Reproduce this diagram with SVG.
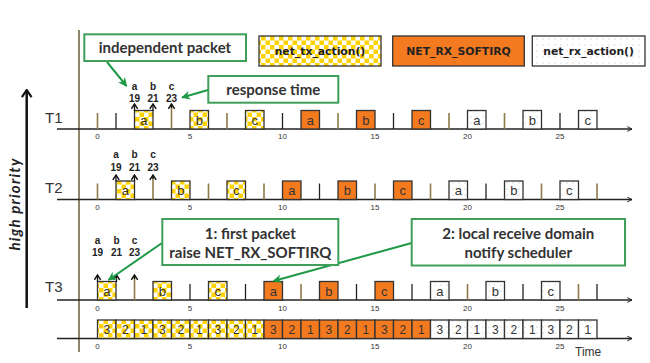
<svg xmlns="http://www.w3.org/2000/svg" width="650" height="363" viewBox="0 0 650 363">
<defs>
<pattern id="chk" patternUnits="userSpaceOnUse" width="9" height="9">
<rect width="9" height="9" fill="#fff"/>
<rect width="4.5" height="4.5" fill="#ffd200"/>
<rect x="4.5" y="4.5" width="4.5" height="4.5" fill="#ffd200"/>
</pattern>
<pattern id="dots" patternUnits="userSpaceOnUse" width="6" height="6">
<rect width="6" height="6" fill="#fff"/>
<circle cx="3" cy="3" r="0.5" fill="#aaa"/>
</pattern>
<marker id="chev" viewBox="0 0 10 10" refX="9" refY="5" markerWidth="6" markerHeight="6" markerUnits="userSpaceOnUse" orient="auto">
<path d="M1,1 L9,5 L1,9" fill="none" stroke="#222" stroke-width="1.6"/>
</marker>
<marker id="up" viewBox="0 0 10 10" refX="5" refY="1" markerWidth="8" markerHeight="8" markerUnits="userSpaceOnUse" orient="0">
<path d="M1,7 L5,1 L9,7" fill="none" stroke="#111" stroke-width="1.8"/>
</marker>
<marker id="bigup" viewBox="0 0 10 10" refX="5" refY="1" markerWidth="12" markerHeight="12" markerUnits="userSpaceOnUse" orient="0">
<path d="M1,7 L5,1 L9,7" fill="none" stroke="#111" stroke-width="1.8"/>
</marker>
<marker id="garr" viewBox="0 0 10 10" refX="9" refY="5" markerWidth="9" markerHeight="9" markerUnits="userSpaceOnUse" orient="auto">
<path d="M0,0 L10,5 L0,10 L3,5 Z" fill="#1e9a46"/>
</marker>
<style>
.ax{stroke:#222;stroke-width:1.3;fill:none}
.tk{stroke:#222;stroke-width:1.3}
.tko{stroke:#8c7a48;stroke-width:1.6}
.bx{stroke:#333;stroke-width:1.3}
.c{fill:url(#chk)}
.o{fill:#f47a20}
.w{fill:url(#dots)}
.bl{font-family:"Liberation Sans",Arial,sans-serif;font-size:13px;fill:#333;text-anchor:middle}
.dl{font-family:"Liberation Sans",Arial,sans-serif;font-size:12px;fill:#333;text-anchor:middle}
.nl{font-family:"Liberation Sans",Arial,sans-serif;font-size:8px;fill:#333;text-anchor:middle}
.rl{font-family:"Liberation Sans",Arial,sans-serif;font-size:10px;font-weight:bold;fill:#222;text-anchor:middle}
.tl{font-family:"Liberation Sans",Arial,sans-serif;font-size:15px;fill:#333}
.lg{font-family:"DejaVu Sans",Verdana,sans-serif;font-size:10.8px;font-weight:bold;fill:#222;text-anchor:middle}
.co{font-family:Lato,"Open Sans",sans-serif;font-size:15px;font-weight:bold;fill:#333;text-anchor:middle}
.cb{fill:#fff;stroke:#3f9f5a;stroke-width:2}
.ga{stroke:#1e9a46;stroke-width:2;fill:none;marker-end:url(#garr)}
.ar{stroke:#111;stroke-width:1.3;marker-start:url(#up)}
.aro{stroke:#8c7a48;stroke-width:1.6}
</style>
</defs>
<rect width="650" height="363" fill="#fff"/>

<line x1="79" y1="30" x2="79" y2="352" stroke="#6b5d3a" stroke-width="1.5"/>

<g id="priority">
<line x1="26.7" y1="90" x2="26.7" y2="308" stroke="#111" stroke-width="2.5" marker-start="url(#bigup)"/>
<text transform="translate(19.5,204) rotate(-90)" font-family="Lato,'Open Sans',sans-serif" font-size="15" font-weight="bold" font-style="italic" fill="#222" text-anchor="middle" letter-spacing="1.2">high priority</text>
</g>

<g id="legend-tx"><rect x="259" y="36" width="122" height="30" class="c bx"/><text x="320" y="55" class="lg">net_tx_action()</text></g>
<g id="legend-softirq"><rect x="392.7" y="36" width="131.6" height="30" class="o bx"/><text x="458.5" y="55" class="lg">NET_RX_SOFTIRQ</text></g>
<g id="legend-rx"><rect x="532.3" y="36" width="112.7" height="30" class="w bx"/><text x="588.6" y="55" class="lg">net_rx_action()</text></g>

<g id="T1">
<text x="45" y="123" class="tl">T1</text>
<line x1="57" y1="129" x2="632" y2="129" class="ax" marker-end="url(#chev)"/>
<line x1="97.5" y1="113" x2="97.5" y2="129" class="tko"/>
<line x1="116" y1="113" x2="116" y2="129" class="tk"/>
<line x1="227" y1="113" x2="227" y2="129" class="tko"/>
<line x1="282.5" y1="113" x2="282.5" y2="129" class="tk"/>
<line x1="338" y1="113" x2="338" y2="129" class="tko"/>
<line x1="393.5" y1="113" x2="393.5" y2="129" class="tk"/>
<line x1="449" y1="113" x2="449" y2="129" class="tko"/>
<line x1="504.5" y1="113" x2="504.5" y2="129" class="tko"/>
<line x1="560" y1="113" x2="560" y2="129" class="tk"/>
<rect x="134.5" y="110.5" width="18.5" height="18.5" class="c bx"/><text x="143.75" y="124.5" class="bl">a</text>
<rect x="190" y="110.5" width="18.5" height="18.5" class="c bx"/><text x="199.25" y="124.5" class="bl">b</text>
<rect x="245.5" y="110.5" width="18.5" height="18.5" class="c bx"/><text x="254.75" y="124.5" class="bl">c</text>
<rect x="301" y="110.5" width="18.5" height="18.5" class="o bx"/><text x="310.25" y="124.5" class="bl">a</text>
<rect x="356.5" y="110.5" width="18.5" height="18.5" class="o bx"/><text x="365.75" y="124.5" class="bl">b</text>
<rect x="412" y="110.5" width="18.5" height="18.5" class="o bx"/><text x="421.25" y="124.5" class="bl">c</text>
<rect x="467.5" y="110.5" width="18.5" height="18.5" class="w bx"/><text x="476.75" y="124.5" class="bl">a</text>
<rect x="523" y="110.5" width="18.5" height="18.5" class="w bx"/><text x="532.25" y="124.5" class="bl">b</text>
<rect x="578.5" y="110.5" width="18.5" height="18.5" class="w bx"/><text x="587.75" y="124.5" class="bl">c</text>
<line x1="171.5" y1="106" x2="171.5" y2="129" class="aro"/>
<line x1="134.5" y1="104" x2="134.5" y2="111" class="ar"/>
<line x1="153" y1="104" x2="153" y2="111" class="ar"/>
<line x1="171.5" y1="104" x2="171.5" y2="108" class="ar"/>
<text x="134.5" y="90" class="rl">a</text><text x="153" y="90" class="rl">b</text><text x="171.5" y="90" class="rl">c</text>
<text x="134.5" y="102" class="rl">19</text><text x="153" y="102" class="rl">21</text><text x="171.5" y="102" class="rl">23</text>
<text x="97.5" y="139" class="nl">0</text><text x="190" y="139" class="nl">5</text><text x="282.5" y="139" class="nl">10</text><text x="375" y="139" class="nl">15</text><text x="467.5" y="139" class="nl">20</text><text x="560" y="139" class="nl">25</text>
</g>

<g id="T2">
<text x="45" y="193" class="tl">T2</text>
<line x1="57" y1="199.5" x2="632" y2="199.5" class="ax" marker-end="url(#chev)"/>
<line x1="97.5" y1="183.5" x2="97.5" y2="199.5" class="tko"/>
<line x1="208.5" y1="183.5" x2="208.5" y2="199.5" class="tko"/>
<line x1="264" y1="183.5" x2="264" y2="199.5" class="tko"/>
<line x1="319.5" y1="183.5" x2="319.5" y2="199.5" class="tk"/>
<line x1="375" y1="183.5" x2="375" y2="199.5" class="tko"/>
<line x1="430.5" y1="183.5" x2="430.5" y2="199.5" class="tko"/>
<line x1="486" y1="183.5" x2="486" y2="199.5" class="tk"/>
<line x1="541.5" y1="183.5" x2="541.5" y2="199.5" class="tko"/>
<line x1="597" y1="183.5" x2="597" y2="199.5" class="tko"/>
<rect x="116" y="181" width="18.5" height="18.5" class="c bx"/><text x="125.25" y="195" class="bl">a</text>
<rect x="171.5" y="181" width="18.5" height="18.5" class="c bx"/><text x="180.75" y="195" class="bl">b</text>
<rect x="227" y="181" width="18.5" height="18.5" class="c bx"/><text x="236.25" y="195" class="bl">c</text>
<rect x="282.5" y="181" width="18.5" height="18.5" class="o bx"/><text x="291.75" y="195" class="bl">a</text>
<rect x="338" y="181" width="18.5" height="18.5" class="o bx"/><text x="347.25" y="195" class="bl">b</text>
<rect x="393.5" y="181" width="18.5" height="18.5" class="o bx"/><text x="402.75" y="195" class="bl">c</text>
<rect x="449" y="181" width="18.5" height="18.5" class="w bx"/><text x="458.25" y="195" class="bl">a</text>
<rect x="504.5" y="181" width="18.5" height="18.5" class="w bx"/><text x="513.75" y="195" class="bl">b</text>
<rect x="560" y="181" width="18.5" height="18.5" class="w bx"/><text x="569.25" y="195" class="bl">c</text>
<line x1="153" y1="177" x2="153" y2="199.5" class="aro"/>
<line x1="116" y1="175" x2="116" y2="181.5" class="ar"/>
<line x1="134.5" y1="175" x2="134.5" y2="181.5" class="ar"/>
<line x1="153" y1="175" x2="153" y2="179" class="ar"/>
<text x="116" y="158" class="rl">a</text><text x="134.5" y="158" class="rl">b</text><text x="153" y="158" class="rl">c</text>
<text x="116" y="171" class="rl">19</text><text x="134.5" y="171" class="rl">21</text><text x="153" y="171" class="rl">23</text>
<text x="97.5" y="209.5" class="nl">0</text><text x="190" y="209.5" class="nl">5</text><text x="282.5" y="209.5" class="nl">10</text><text x="375" y="209.5" class="nl">15</text><text x="467.5" y="209.5" class="nl">20</text><text x="560" y="209.5" class="nl">25</text>
</g>

<g id="T3">
<text x="45" y="292" class="tl">T3</text>
<line x1="57" y1="300" x2="632" y2="300" class="ax" marker-end="url(#chev)"/>
<line x1="190" y1="284" x2="190" y2="300" class="tk"/>
<line x1="245.5" y1="284" x2="245.5" y2="300" class="tk"/>
<line x1="301" y1="284" x2="301" y2="300" class="tko"/>
<line x1="356.5" y1="284" x2="356.5" y2="300" class="tk"/>
<line x1="412" y1="284" x2="412" y2="300" class="tk"/>
<line x1="467.5" y1="284" x2="467.5" y2="300" class="tko"/>
<line x1="523" y1="284" x2="523" y2="300" class="tk"/>
<line x1="578.5" y1="284" x2="578.5" y2="300" class="tko"/>
<line x1="597" y1="284" x2="597" y2="300" class="tk"/>
<rect x="97.5" y="281.5" width="18.5" height="18.5" class="c bx"/><text x="106.75" y="295.5" class="bl">a</text>
<rect x="153" y="281.5" width="18.5" height="18.5" class="c bx"/><text x="162.25" y="295.5" class="bl">b</text>
<rect x="208.5" y="281.5" width="18.5" height="18.5" class="c bx"/><text x="217.75" y="295.5" class="bl">c</text>
<rect x="264" y="281.5" width="18.5" height="18.5" class="o bx"/><text x="273.25" y="295.5" class="bl">a</text>
<rect x="319.5" y="281.5" width="18.5" height="18.5" class="o bx"/><text x="328.75" y="295.5" class="bl">b</text>
<rect x="375" y="281.5" width="18.5" height="18.5" class="o bx"/><text x="384.25" y="295.5" class="bl">c</text>
<rect x="430.5" y="281.5" width="18.5" height="18.5" class="w bx"/><text x="439.75" y="295.5" class="bl">a</text>
<rect x="486" y="281.5" width="18.5" height="18.5" class="w bx"/><text x="495.25" y="295.5" class="bl">b</text>
<rect x="541.5" y="281.5" width="18.5" height="18.5" class="w bx"/><text x="550.75" y="295.5" class="bl">c</text>
<line x1="134.5" y1="277" x2="134.5" y2="300" class="aro"/>
<line x1="97.5" y1="275" x2="97.5" y2="282" class="ar"/>
<line x1="116.5" y1="275" x2="116.5" y2="282" class="ar"/>
<line x1="134.5" y1="275" x2="134.5" y2="279" class="ar"/>
<text x="97.5" y="244" class="rl">a</text><text x="116.5" y="244" class="rl">b</text><text x="134.5" y="244" class="rl">c</text>
<text x="97.5" y="256" class="rl">19</text><text x="116.5" y="256" class="rl">21</text><text x="134.5" y="256" class="rl">23</text>
<text x="97.5" y="311" class="nl">0</text><text x="190" y="311" class="nl">5</text><text x="282.5" y="311" class="nl">10</text><text x="375" y="311" class="nl">15</text><text x="467.5" y="311" class="nl">20</text><text x="560" y="311" class="nl">25</text>
</g>

<g id="schedule">
<line x1="57" y1="338.5" x2="632" y2="338.5" class="ax" marker-end="url(#chev)"/>
<rect x="97.5" y="320" width="18.5" height="18.5" class="c bx"/><text x="106.75" y="334" class="dl">3</text>
<rect x="116" y="320" width="18.5" height="18.5" class="c bx"/><text x="125.25" y="334" class="dl">2</text>
<rect x="134.5" y="320" width="18.5" height="18.5" class="c bx"/><text x="143.75" y="334" class="dl">1</text>
<rect x="153" y="320" width="18.5" height="18.5" class="c bx"/><text x="162.25" y="334" class="dl">3</text>
<rect x="171.5" y="320" width="18.5" height="18.5" class="c bx"/><text x="180.75" y="334" class="dl">2</text>
<rect x="190" y="320" width="18.5" height="18.5" class="c bx"/><text x="199.25" y="334" class="dl">1</text>
<rect x="208.5" y="320" width="18.5" height="18.5" class="c bx"/><text x="217.75" y="334" class="dl">3</text>
<rect x="227" y="320" width="18.5" height="18.5" class="c bx"/><text x="236.25" y="334" class="dl">2</text>
<rect x="245.5" y="320" width="18.5" height="18.5" class="c bx"/><text x="254.75" y="334" class="dl">1</text>
<rect x="264" y="320" width="18.5" height="18.5" class="o bx"/><text x="273.25" y="334" class="dl">3</text>
<rect x="282.5" y="320" width="18.5" height="18.5" class="o bx"/><text x="291.75" y="334" class="dl">2</text>
<rect x="301" y="320" width="18.5" height="18.5" class="o bx"/><text x="310.25" y="334" class="dl">1</text>
<rect x="319.5" y="320" width="18.5" height="18.5" class="o bx"/><text x="328.75" y="334" class="dl">3</text>
<rect x="338" y="320" width="18.5" height="18.5" class="o bx"/><text x="347.25" y="334" class="dl">2</text>
<rect x="356.5" y="320" width="18.5" height="18.5" class="o bx"/><text x="365.75" y="334" class="dl">1</text>
<rect x="375" y="320" width="18.5" height="18.5" class="o bx"/><text x="384.25" y="334" class="dl">3</text>
<rect x="393.5" y="320" width="18.5" height="18.5" class="o bx"/><text x="402.75" y="334" class="dl">2</text>
<rect x="412" y="320" width="18.5" height="18.5" class="o bx"/><text x="421.25" y="334" class="dl">1</text>
<rect x="430.5" y="320" width="18.5" height="18.5" class="w bx"/><text x="439.75" y="334" class="dl">3</text>
<rect x="449" y="320" width="18.5" height="18.5" class="w bx"/><text x="458.25" y="334" class="dl">2</text>
<rect x="467.5" y="320" width="18.5" height="18.5" class="w bx"/><text x="476.75" y="334" class="dl">1</text>
<rect x="486" y="320" width="18.5" height="18.5" class="w bx"/><text x="495.25" y="334" class="dl">3</text>
<rect x="504.5" y="320" width="18.5" height="18.5" class="w bx"/><text x="513.75" y="334" class="dl">2</text>
<rect x="523" y="320" width="18.5" height="18.5" class="w bx"/><text x="532.25" y="334" class="dl">1</text>
<rect x="541.5" y="320" width="18.5" height="18.5" class="w bx"/><text x="550.75" y="334" class="dl">3</text>
<rect x="560" y="320" width="18.5" height="18.5" class="w bx"/><text x="569.25" y="334" class="dl">2</text>
<rect x="578.5" y="320" width="18.5" height="18.5" class="w bx"/><text x="587.75" y="334" class="dl">1</text>
<text x="97.5" y="349" class="nl">0</text><text x="190" y="349" class="nl">5</text><text x="282.5" y="349" class="nl">10</text><text x="375" y="349" class="nl">15</text><text x="467.5" y="349" class="nl">20</text><text x="560" y="349" class="nl">25</text>
<text x="575" y="356" font-family="Liberation Sans,Arial,sans-serif" font-size="12" fill="#333">Time</text>
</g>

<g id="connectors">
<line x1="107" y1="62" x2="126.5" y2="86" class="ga"/>
<line x1="208" y1="90" x2="182" y2="97.5" class="ga"/>
<line x1="411.7" y1="243" x2="273.5" y2="281" class="ga"/>
<line x1="162" y1="243" x2="108.5" y2="280" class="ga"/>
</g>

<g id="callout-independent"><rect x="84.3" y="34.3" width="161.7" height="26.7" class="cb"/><text x="165" y="53" class="co">independent packet</text></g>
<g id="callout-response"><rect x="208.3" y="76" width="130" height="26.7" class="cb"/><text x="273.3" y="94.5" class="co">response time</text></g>
<g id="callout-first"><rect x="162.3" y="219" width="176" height="46" class="cb"/><text x="250.3" y="239" class="co">1: first packet</text><text x="250.3" y="258" class="co">raise NET_RX_SOFTIRQ</text></g>
<g id="callout-local"><rect x="411.7" y="219" width="213.3" height="46.5" class="cb"/><text x="518.3" y="239" class="co">2: local receive domain</text><text x="518.3" y="258" class="co">notify scheduler</text></g>
</svg>
